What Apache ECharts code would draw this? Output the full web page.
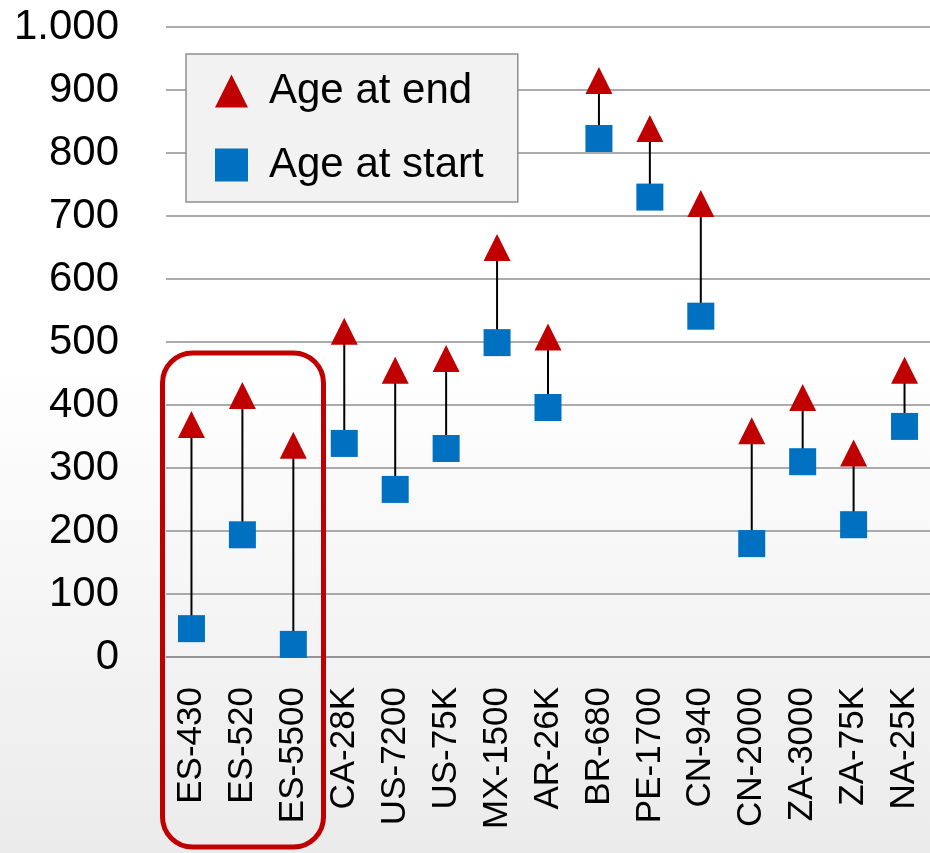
<!DOCTYPE html>
<html>
<head>
<meta charset="utf-8">
<title>Age at start / end</title>
<script src="https://cdn.jsdelivr.net/npm/echarts@6/dist/echarts.min.js"></script>
<style>
    html, body { margin: 0; padding: 0; background: #fff; }
    #main { width: 930px; height: 853px; }
</style>
</head>
<body>
<div id="main"></div>
<script>
    var categories = ['ES-430', 'ES-520', 'ES-5500', 'CA-28K', 'US-7200', 'US-75K', 'MX-1500', 'AR-26K',
        'BR-680', 'PE-1700', 'CN-940', 'CN-2000', 'ZA-3000', 'ZA-75K', 'NA-25K'];
    var ageAtEnd = [369, 415, 336, 517, 455, 474, 650, 508, 915, 839, 720, 359, 412, 324, 455];
    var ageAtStart = [45, 194, 20, 339, 266, 331, 499, 396, 823, 730, 541, 180, 310, 210, 366];
    var yTicks = [0, 100, 200, 300, 400, 500, 600, 700, 800, 900, 1000];

    (function () {
        var gray = '#8f8f8f';
        var font = 'Liberation Sans';

        // 高低线数据: [类目索引, 起始, 结束]
        var rangeData = categories.map(function (c, i) {
            return [i, ageAtStart[i], ageAtEnd[i]];
        });

        var option = {
            animation: false,
            backgroundColor: new echarts.graphic.LinearGradient(0, 0, 0, 1, [
                { offset: 0, color: '#ffffff' },
                { offset: 0.42, color: '#ffffff' },
                { offset: 1, color: '#ebebeb' }
            ]),
            grid: { left: 166, top: 27, bottom: 196, right: -6, containLabel: false },
            legend: {
                orient: 'vertical',
                left: 186,
                top: 54,
                padding: [16, 34, 16, 29],
                itemGap: 32,
                itemWidth: 33,
                itemHeight: 33,
                backgroundColor: '#f2f2f2',
                borderColor: '#8f8f8f',
                borderWidth: 1.5,
                data: [
                    { name: 'Age at end', icon: 'triangle' },
                    { name: 'Age at start', icon: 'rect' }
                ],
                textStyle: {
                    fontFamily: font,
                    fontSize: 42,
                    lineHeight: 42,
                    color: '#000',
                    padding: [0, 0, 0, 16]
                }
            },
            xAxis: {
                type: 'category',
                data: categories,
                boundaryGap: true,
                axisLine: { lineStyle: { color: gray, width: 1.5 } },
                axisTick: { length: 13, lineStyle: { color: gray, width: 1.3 } },
                axisLabel: {
                    rotate: 90,
                    margin: 30,
                    interval: 0,
                    fontFamily: font,
                    fontSize: 35,
                    color: '#000'
                },
                splitLine: { show: false }
            },
            yAxis: {
                type: 'value',
                min: yTicks[0],
                max: yTicks[yTicks.length - 1],
                interval: 100,
                axisLine: { show: false },
                axisTick: { show: false },
                axisLabel: {
                    margin: 47,
                    fontFamily: font,
                    fontSize: 42,
                    color: '#000',
                    formatter: function (v) {
                        return String(v).replace(/\B(?=(\d{3})+(?!\d))/g, '.');
                    }
                },
                splitLine: { lineStyle: { color: gray, width: 1.5 } }
            },
            series: [
                {
                    type: 'custom',
                    name: 'range',
                    z: 1,
                    silent: true,
                    data: rangeData,
                    encode: { x: 0, y: [1, 2] },
                    renderItem: function (params, api) {
                        var lo = api.coord([api.value(0), api.value(1)]);
                        var hi = api.coord([api.value(0), api.value(2)]);
                        return {
                            type: 'line',
                            shape: { x1: lo[0], y1: lo[1], x2: hi[0], y2: hi[1] },
                            style: { stroke: '#000', lineWidth: 2 }
                        };
                    }
                },
                {
                    type: 'scatter',
                    name: 'Age at end',
                    z: 3,
                    symbol: 'triangle',
                    symbolSize: [27, 27],
                    itemStyle: { color: '#c00000', opacity: 1 },
                    data: ageAtEnd
                },
                {
                    type: 'scatter',
                    name: 'Age at start',
                    z: 3,
                    symbol: 'rect',
                    symbolSize: [27, 27],
                    itemStyle: { color: '#0070c0', opacity: 1 },
                    data: ageAtStart
                }
            ],
            graphic: [
                {
                    type: 'rect',
                    z: 10,
                    shape: { x: 162.5, y: 353, width: 161, height: 494, r: 30 },
                    style: { fill: 'none', stroke: '#c00000', lineWidth: 5 }
                }
            ]
        };

        var myChart = echarts.init(document.getElementById('main'));
        myChart.setOption(option);
    })();
</script>
</body>
</html>
